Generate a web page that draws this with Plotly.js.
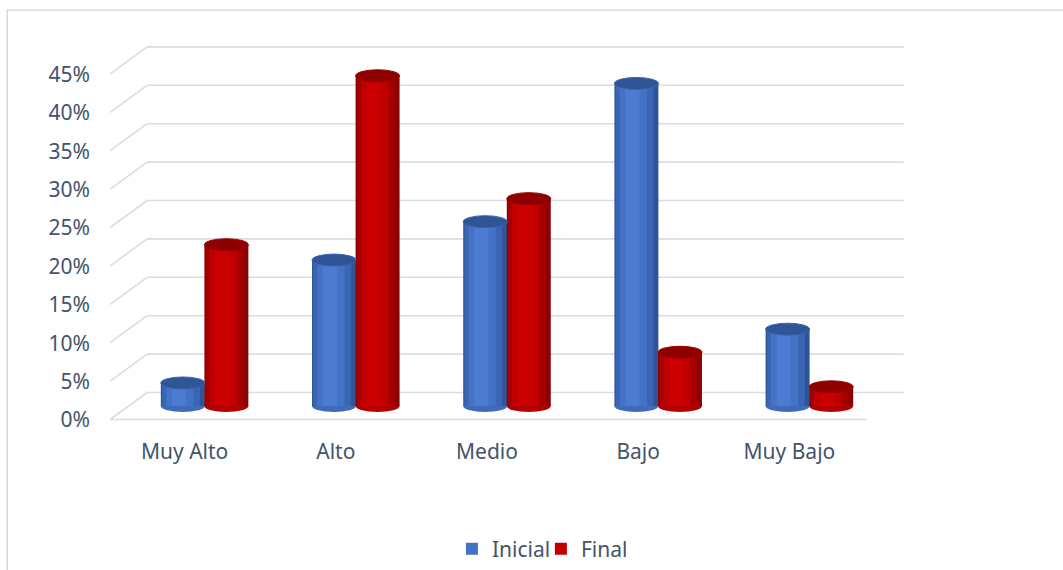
<!DOCTYPE html>
<html>
<head>
<meta charset="utf-8">
<script src="https://cdn.plot.ly/plotly-3.0.1.min.js"></script>
<style>
  html, body { margin: 0; padding: 0; background: #ffffff; }
  #chart { width: 1063px; height: 570px; }
</style>
</head>
<body>
<div id="chart"></div>
<script>
// ---- data ----
const categories = ["Muy Alto", "Alto", "Medio", "Bajo", "Muy Bajo"];
const inicial = [3, 19, 24, 42, 10];     // %
const final_ = [21, 43, 27, 7, 2.5];     // %
const yTicks = [0, 5, 10, 15, 20, 25, 30, 35, 40, 45];
const yTickLabels = ["0%", "5%", "10%", "15%", "20%", "25%", "30%", "35%", "40%", "45%"];
const seriesNames = ["Inicial", "Final"];

// ---- geometry (pixels) ----
const W = 1063, H = 570;
const L = 128.85, R = 885.35, T = 40, B = 425;
const pxPerUnit = 7.68;          // pixels per 1 %
const zeroPx = 406;              // pixel row of 0% in bar plane
const yMin = (zeroPx - B) / pxPerUnit;
const yMax = (zeroPx - T) / pxPerUnit;
const depthY = 13.5;             // half depth offset in px
const dz = depthY / pxPerUnit;
const px2x = px => (px - L) / (R - L);
const px2y = py => (B - py) / (B - T);
const catPx = (R - L) / categories.length;
const unit = px => px / catPx;   // px -> x data units

const xIdx = categories.map((_, i) => i);
const barW = unit(44);
const barShift = unit(21.8);

const font = { family: "Noto Sans, Open Sans, sans-serif", size: 21, color: "#44546A" };

// shading layers for cylinder look
const layers = [
  { f: 1.00, s: 0.00, blue: "#2F5597", red: "#8B0000" },
  { f: 0.86, s: -0.04, blue: "#3A65B4", red: "#A50000" },
  { f: 0.62, s: -0.07, blue: "#4472C4", red: "#C00000", legend: true },
  { f: 0.32, s: -0.09, blue: "#4C7CD1", red: "#CC0000" }
];

const traces = [];
[inicial, final_].forEach((vals, si) => {
  const dir = si === 0 ? -1 : 1;
  layers.forEach(ly => {
    const w = barW * ly.f;
    const center = dir * barShift + ly.s * barW;
    traces.push({
      type: "bar",
      name: seriesNames[si],
      x: xIdx,
      y: vals,
      width: w,
      offset: center - w / 2,
      marker: { color: si === 0 ? ly.blue : ly.red, line: { width: 0 } },
      showlegend: !!ly.legend,
      legend: si === 0 ? "legend" : "legend2",
      hoverinfo: ly.legend ? "name+y" : "skip"
    });
  });
});

// ---- decorative shapes ----
const grid = "#D9DCE1";
const shapes = [];
// back wall gridlines and side wall diagonals
yTicks.forEach(t => {
  shapes.push({ type: "line", layer: "below", xref: "paper", yref: "y",
    x0: px2x(147), x1: px2x(904), y0: t + dz, y1: t + dz,
    line: { color: grid, width: 1.6 } });
  shapes.push({ type: "line", layer: "below", xref: "paper", yref: "y",
    x0: px2x(110), x1: px2x(147), y0: t - dz, y1: t + dz,
    line: { color: grid, width: 1.6 } });
});
// front floor edge
shapes.push({ type: "line", layer: "below", xref: "paper", yref: "y",
  x0: px2x(110), x1: px2x(867), y0: -dz, y1: -dz,
  line: { color: grid, width: 1.6 } });

// cylinder ellipses (bottom and top)
const ry = 6 / pxPerUnit;
[inicial, final_].forEach((vals, si) => {
  const dir = si === 0 ? -1 : 1;
  const body = si === 0 ? "#3E6BBC" : "#B30000";
  const top = si === 0 ? "#2F5597" : "#8E0000";
  vals.forEach((v, i) => {
    const cx = i + dir * barShift;
    shapes.push({ type: "circle", layer: "below", xref: "x", yref: "y",
      x0: cx - barW / 2, x1: cx + barW / 2, y0: -ry, y1: ry,
      fillcolor: body, line: { width: 0 } });
    shapes.push({ type: "circle", layer: "above", xref: "x", yref: "y",
      x0: cx - barW / 2, x1: cx + barW / 2, y0: v - ry, y1: v + ry,
      fillcolor: top, line: { color: si === 0 ? "#3A63AE" : "#9E0000", width: 1 } });
  });
});
// outer chart border
shapes.push({ type: "rect", xref: "paper", yref: "paper",
  x0: px2x(7), x1: px2x(1075), y0: px2y(10), y1: px2y(590),
  line: { color: "#D9D9D9", width: 1.5 }, fillcolor: "rgba(0,0,0,0)", layer: "below" });

const legendBase = {
  orientation: "h", yanchor: "middle", y: px2y(549), xanchor: "left",
  font: font, bgcolor: "rgba(0,0,0,0)", itemwidth: 30
};

const layout = {
  width: W, height: H,
  margin: { l: L, r: W - R, t: T, b: H - B, pad: 0, autoexpand: false },
  paper_bgcolor: "#ffffff",
  plot_bgcolor: "rgba(0,0,0,0)",
  barmode: "overlay",
  showlegend: true,
  font: font,
  xaxis: {
    range: [-0.5, categories.length - 0.5],
    tickvals: xIdx, ticktext: categories,
    showgrid: false, zeroline: false, showline: false, ticks: "",
    tickfont: font, ticklabelshift: -20, ticklabelstandoff: 12,
    automargin: false, fixedrange: true
  },
  yaxis: {
    range: [yMin, yMax],
    tickvals: yTicks, ticktext: yTickLabels,
    showgrid: false, zeroline: false, showline: false, ticks: "",
    tickfont: font, ticklabelshift: 14, ticklabelstandoff: 38,
    automargin: false, fixedrange: true
  },
  legend: Object.assign({}, legendBase, { x: px2x(452) }),
  legend2: Object.assign({}, legendBase, { x: px2x(541) }),
  shapes: shapes
};

Plotly.newPlot("chart", traces, layout, { displayModeBar: false, staticPlot: true });
</script>
</body>
</html>
